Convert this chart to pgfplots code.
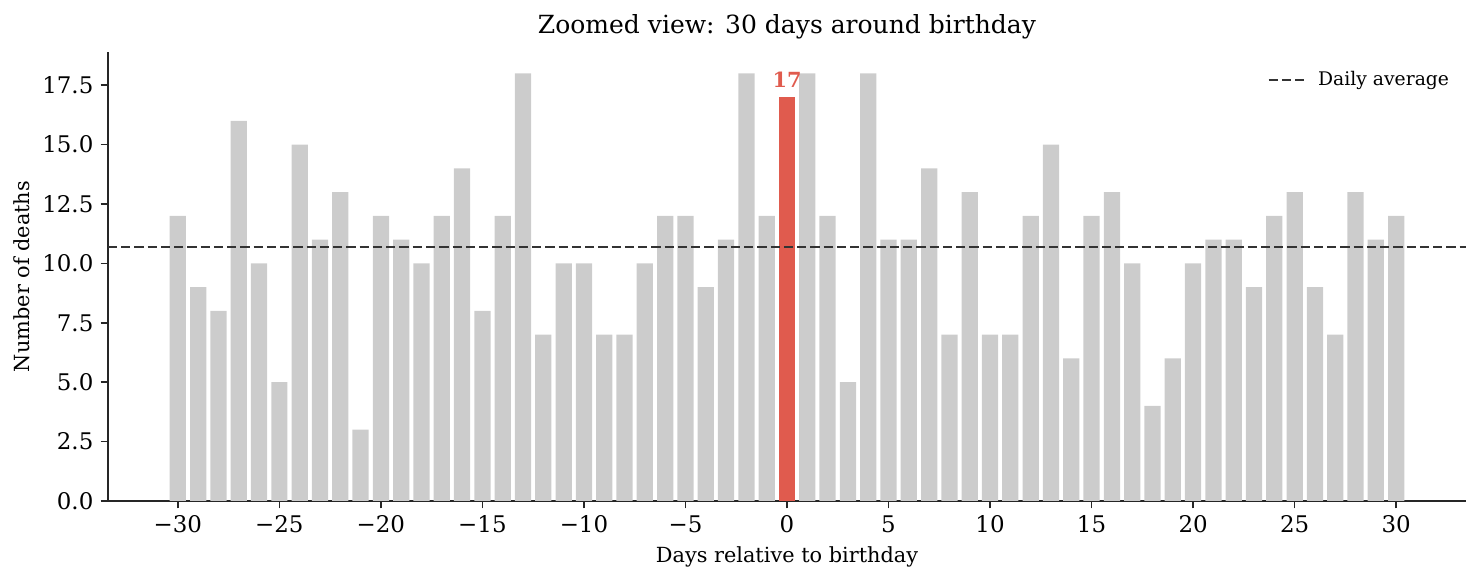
\documentclass[border=0pt]{standalone}
\usepackage{pgfplots}
\pgfplotsset{compat=1.18}
\usepackage{fontspec}
\setmainfont{DejaVu Serif}
\definecolor{bargray}{RGB}{204,204,204}
\definecolor{barred}{RGB}{224,91,78}
\definecolor{avgline}{RGB}{51,51,51}
\begin{document}
\begin{tikzpicture}
\path[use as bounding box] (-51.84pt,-37.92pt) rectangle (658.56pt,240.48pt);
\begin{axis}[
  scale only axis,
  width=651.84pt, height=215.52pt,
  xmin=-33.44, xmax=33.44, ymin=0, ymax=18.9,
  axis x line*=bottom, axis y line*=left,
  axis line style={line width=0.8pt, color=black!85},
  tick style={line width=0.8pt, color=black!85},
  tick align=outside, major tick length=3.5pt,
  xtick={-30,-25,...,30},
  xticklabels={−30,−25,−20,−15,−10,−5,0,5,10,15,20,25,30},
  ytick={0,2.5,5,7.5,10,12.5,15,17.5},
  yticklabels={0.0,2.5,5.0,7.5,10.0,12.5,15.0,17.5},
  ticklabel style={font=\fontsize{11}{13}\selectfont},
  title={Zoomed view: 30 days around birthday},
  title style={font=\fontsize{12}{14}\selectfont, at={(0.5,1)}, anchor=base, yshift=3pt},
  xlabel={Days relative to birthday},
  xlabel style={font=\fontsize{10}{12}\selectfont, at={(0.5,0)}, anchor=base, yshift=-29.5pt},
  ylabel={Number of deaths},
  ylabel style={font=\fontsize{10}{12}\selectfont, at={(0,0.5)}, anchor=base, yshift=37.5pt},
  legend style={draw=none, fill=none, at={(0.9955,0.976)}, anchor=north east,
    font=\fontsize{9}{11}\selectfont, legend cell align=left, column sep=4pt},
  legend image code/.code={\draw[#1] (0pt,0pt) -- (17.2pt,0pt);},
  clip=false,
]
\addplot[ybar, bar width=0.8, bar shift=0pt, fill=bargray, draw=none, forget plot] coordinates {
(-30,12) (-29,9) (-28,8) (-27,16) (-26,10) (-25,5) (-24,15) (-23,11) (-22,13) (-21,3)
(-20,12) (-19,11) (-18,10) (-17,12) (-16,14) (-15,8) (-14,12) (-13,18) (-12,7) (-11,10)
(-10,10) (-9,7) (-8,7) (-7,10) (-6,12) (-5,12) (-4,9) (-3,11) (-2,18) (-1,12)
(1,18) (2,12) (3,5) (4,18) (5,11) (6,11) (7,14) (8,7) (9,13) (10,7)
(11,7) (12,12) (13,15) (14,6) (15,12) (16,13) (17,10) (18,4) (19,6) (20,10)
(21,11) (22,11) (23,9) (24,12) (25,13) (26,9) (27,7) (28,13) (29,11) (30,12)
};
\addplot[ybar, bar width=0.8, bar shift=0pt, fill=barred, draw=none, forget plot,
  /pgf/number format/assume math mode=true,
  nodes near coords,
  every node near coord/.append style={font=\bfseries\fontsize{10}{12}\selectfont, text=barred, anchor=south, yshift=1pt}]
  coordinates {(0,17)};
\addplot[avgline, line width=1.2pt, dash pattern=on 4.44pt off 1.92pt]
  coordinates {(-33.44,10.7) (33.44,10.7)};
\addlegendentry{Daily average}
\end{axis}
\end{tikzpicture}
\end{document}
